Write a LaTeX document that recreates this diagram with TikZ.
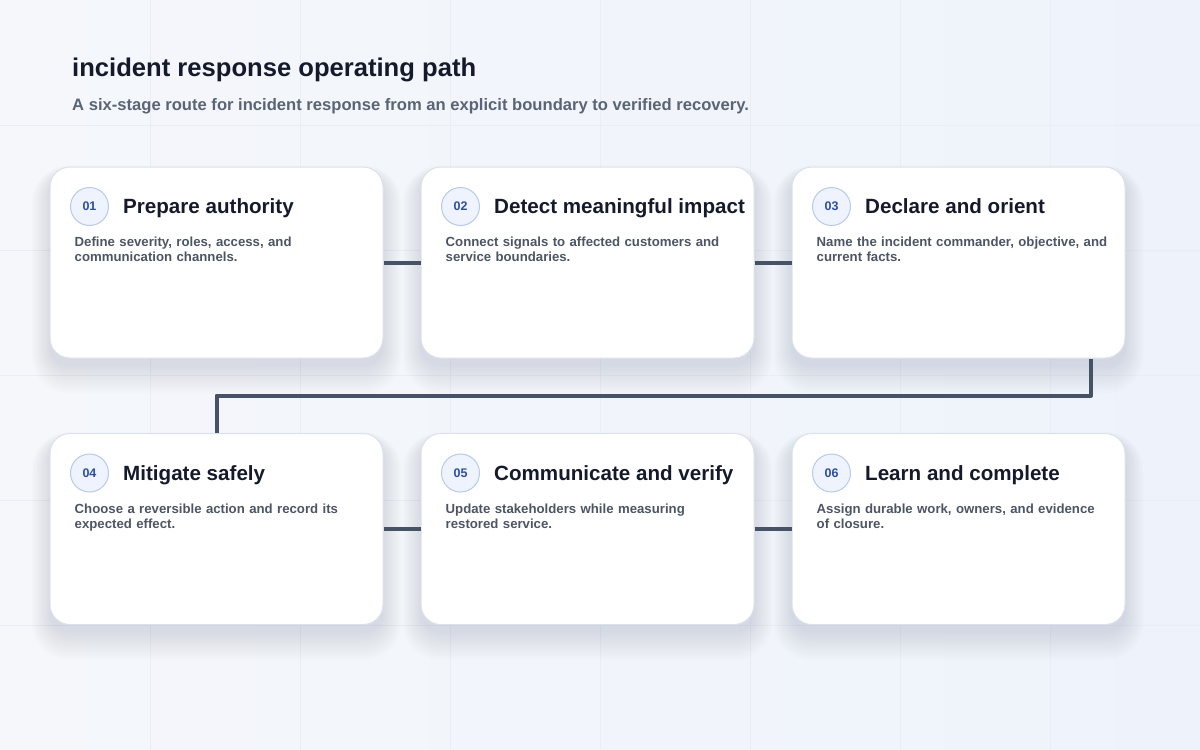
\documentclass[tikz,border=0pt]{standalone}
\usepackage{fontspec}
\setmainfont{Liberation Sans}
\usetikzlibrary{positioning}

\definecolor{bgl}{HTML}{F5F7FB}
\definecolor{bgr}{HTML}{EEF3FB}
\definecolor{gridc}{HTML}{E9EDF4}
\definecolor{shadowc}{HTML}{2A3A6A}
\definecolor{edgec}{HTML}{DCE2EB}
\definecolor{ink}{HTML}{141A2B}
\definecolor{subc}{HTML}{5A6475}
\definecolor{muted}{HTML}{4D5565}
\definecolor{wirec}{HTML}{465366}
\definecolor{badgefill}{HTML}{EEF3FD}
\definecolor{badgeline}{HTML}{B9C9E6}
\definecolor{badgetext}{HTML}{2C4FA3}

\pgfdeclarelayer{back}
\pgfsetlayers{back,main}

\begin{document}
\begin{tikzpicture}[x=1pt,y=-1pt,
  card/.style={draw=edgec, line width=1pt, fill=white, rounded corners=20pt,
    minimum width=333pt, minimum height=191pt, inner sep=0pt},
  badge/.style={circle, draw=badgeline, line width=1pt, fill=badgefill,
    minimum size=38pt, inner sep=0pt, text=badgetext,
    font=\fontsize{12.5}{14}\selectfont\bfseries},
  stagetitle/.style={inner sep=0pt, text height=14.8pt, text depth=0pt, text=ink,
    font=\fontsize{20.6}{24}\selectfont\bfseries},
  blurb/.style={anchor=base west, inner sep=0pt, text width=310pt, align=left,
    text=muted, font=\fontsize{13.2}{15}\selectfont\bfseries},
  wire/.style={draw=wirec, line width=4pt, line join=round},
  gridline/.style={draw=gridc, line width=1pt}]
 \useasboundingbox (0,0) rectangle (1200,750);

 \node (head) [anchor=base west, inner sep=0pt, text=ink,
   font=\fontsize{25.6}{30}\selectfont\bfseries] at (72,76) {incident response operating path};
 \node (sub) [anchor=base west, inner sep=0pt, text=subc,
   font=\fontsize{16.6}{19}\selectfont\bfseries] at (72,110)
   {A six-stage route for incident response from an explicit boundary to verified recovery.};

 \node (c1) [card] at (216.5,262.5) {};
 \node (c2) [card] at (587.5,262.5) {};
 \node (c3) [card] at (958.5,262.5) {};
 \node (c4) [card] at (216.5,529) {};
 \node (c5) [card] at (587.5,529) {};
 \node (c6) [card] at (958.5,529) {};

 \node (b1) [badge] at ([shift={(40,40)}]c1.north west) {01};
 \node (b2) [badge] at ([shift={(40,40)}]c2.north west) {02};
 \node (b3) [badge] at ([shift={(40,40)}]c3.north west) {03};
 \node (b4) [badge] at ([shift={(40,40)}]c4.north west) {04};
 \node (b5) [badge] at ([shift={(40,40)}]c5.north west) {05};
 \node (b6) [badge] at ([shift={(40,40)}]c6.north west) {06};

 \node (t1) [stagetitle, right=14pt of b1] {Prepare authority};
 \node (t2) [stagetitle, right=14pt of b2] {Detect meaningful impact};
 \node (t3) [stagetitle, right=14pt of b3] {Declare and orient};
 \node (t4) [stagetitle, right=14pt of b4] {Mitigate safely};
 \node (t5) [stagetitle, right=14pt of b5] {Communicate and verify};
 \node (t6) [stagetitle, right=14pt of b6] {Learn and complete};

 \node (d1) [blurb] at ([shift={(25,80)}]c1.north west) {Define severity, roles, access, and\\communication channels.};
 \node (d2) [blurb] at ([shift={(25,80)}]c2.north west) {Connect signals to affected customers and\\service boundaries.};
 \node (d3) [blurb] at ([shift={(25,80)}]c3.north west) {Name the incident commander, objective, and\\current facts.};
 \node (d4) [blurb] at ([shift={(25,80)}]c4.north west) {Choose a reversible action and record its\\expected effect.};
 \node (d5) [blurb] at ([shift={(25,80)}]c5.north west) {Update stakeholders while measuring\\restored service.};
 \node (d6) [blurb] at ([shift={(25,80)}]c6.north west) {Assign durable work, owners, and evidence\\of closure.};

 \draw[wire] (c1) -- (c2);
 \draw[wire] (c2) -- (c3);
 \coordinate (turn) at ([xshift=132.5pt]c3.south);
 \draw[wire] (turn) -- ++(0,37) -| (c4.north);
 \draw[wire] (c4) -- (c5);
 \draw[wire] (c5) -- (c6);

 \begin{pgfonlayer}{back}
  \shade[left color=bgl, right color=bgr] (0,0) rectangle (1200,750);
  \foreach \gx in {150,300,...,1050} \draw[gridline] (\gx,0) -- (\gx,750);
  \foreach \gy in {125,250,...,625} \draw[gridline] (0,\gy) -- (1200,\gy);
  \foreach \i in {1,...,6}
   \foreach \k in {0,...,13} {
    \pgfmathsetmacro\rr{20+1.4*\k}
    \pgfmathsetmacro\dd{1.4*\k}
    \pgfmathsetmacro\dy{8+0.7*\k}
    \path[fill=shadowc, opacity=0.0085, rounded corners=\rr pt]
      ([shift={(-\dd,-\dd+\dy)}]c\i.north west) rectangle ([shift={(\dd,\dd+\dy)}]c\i.south east);
   }
 \end{pgfonlayer}
\end{tikzpicture}
\end{document}
